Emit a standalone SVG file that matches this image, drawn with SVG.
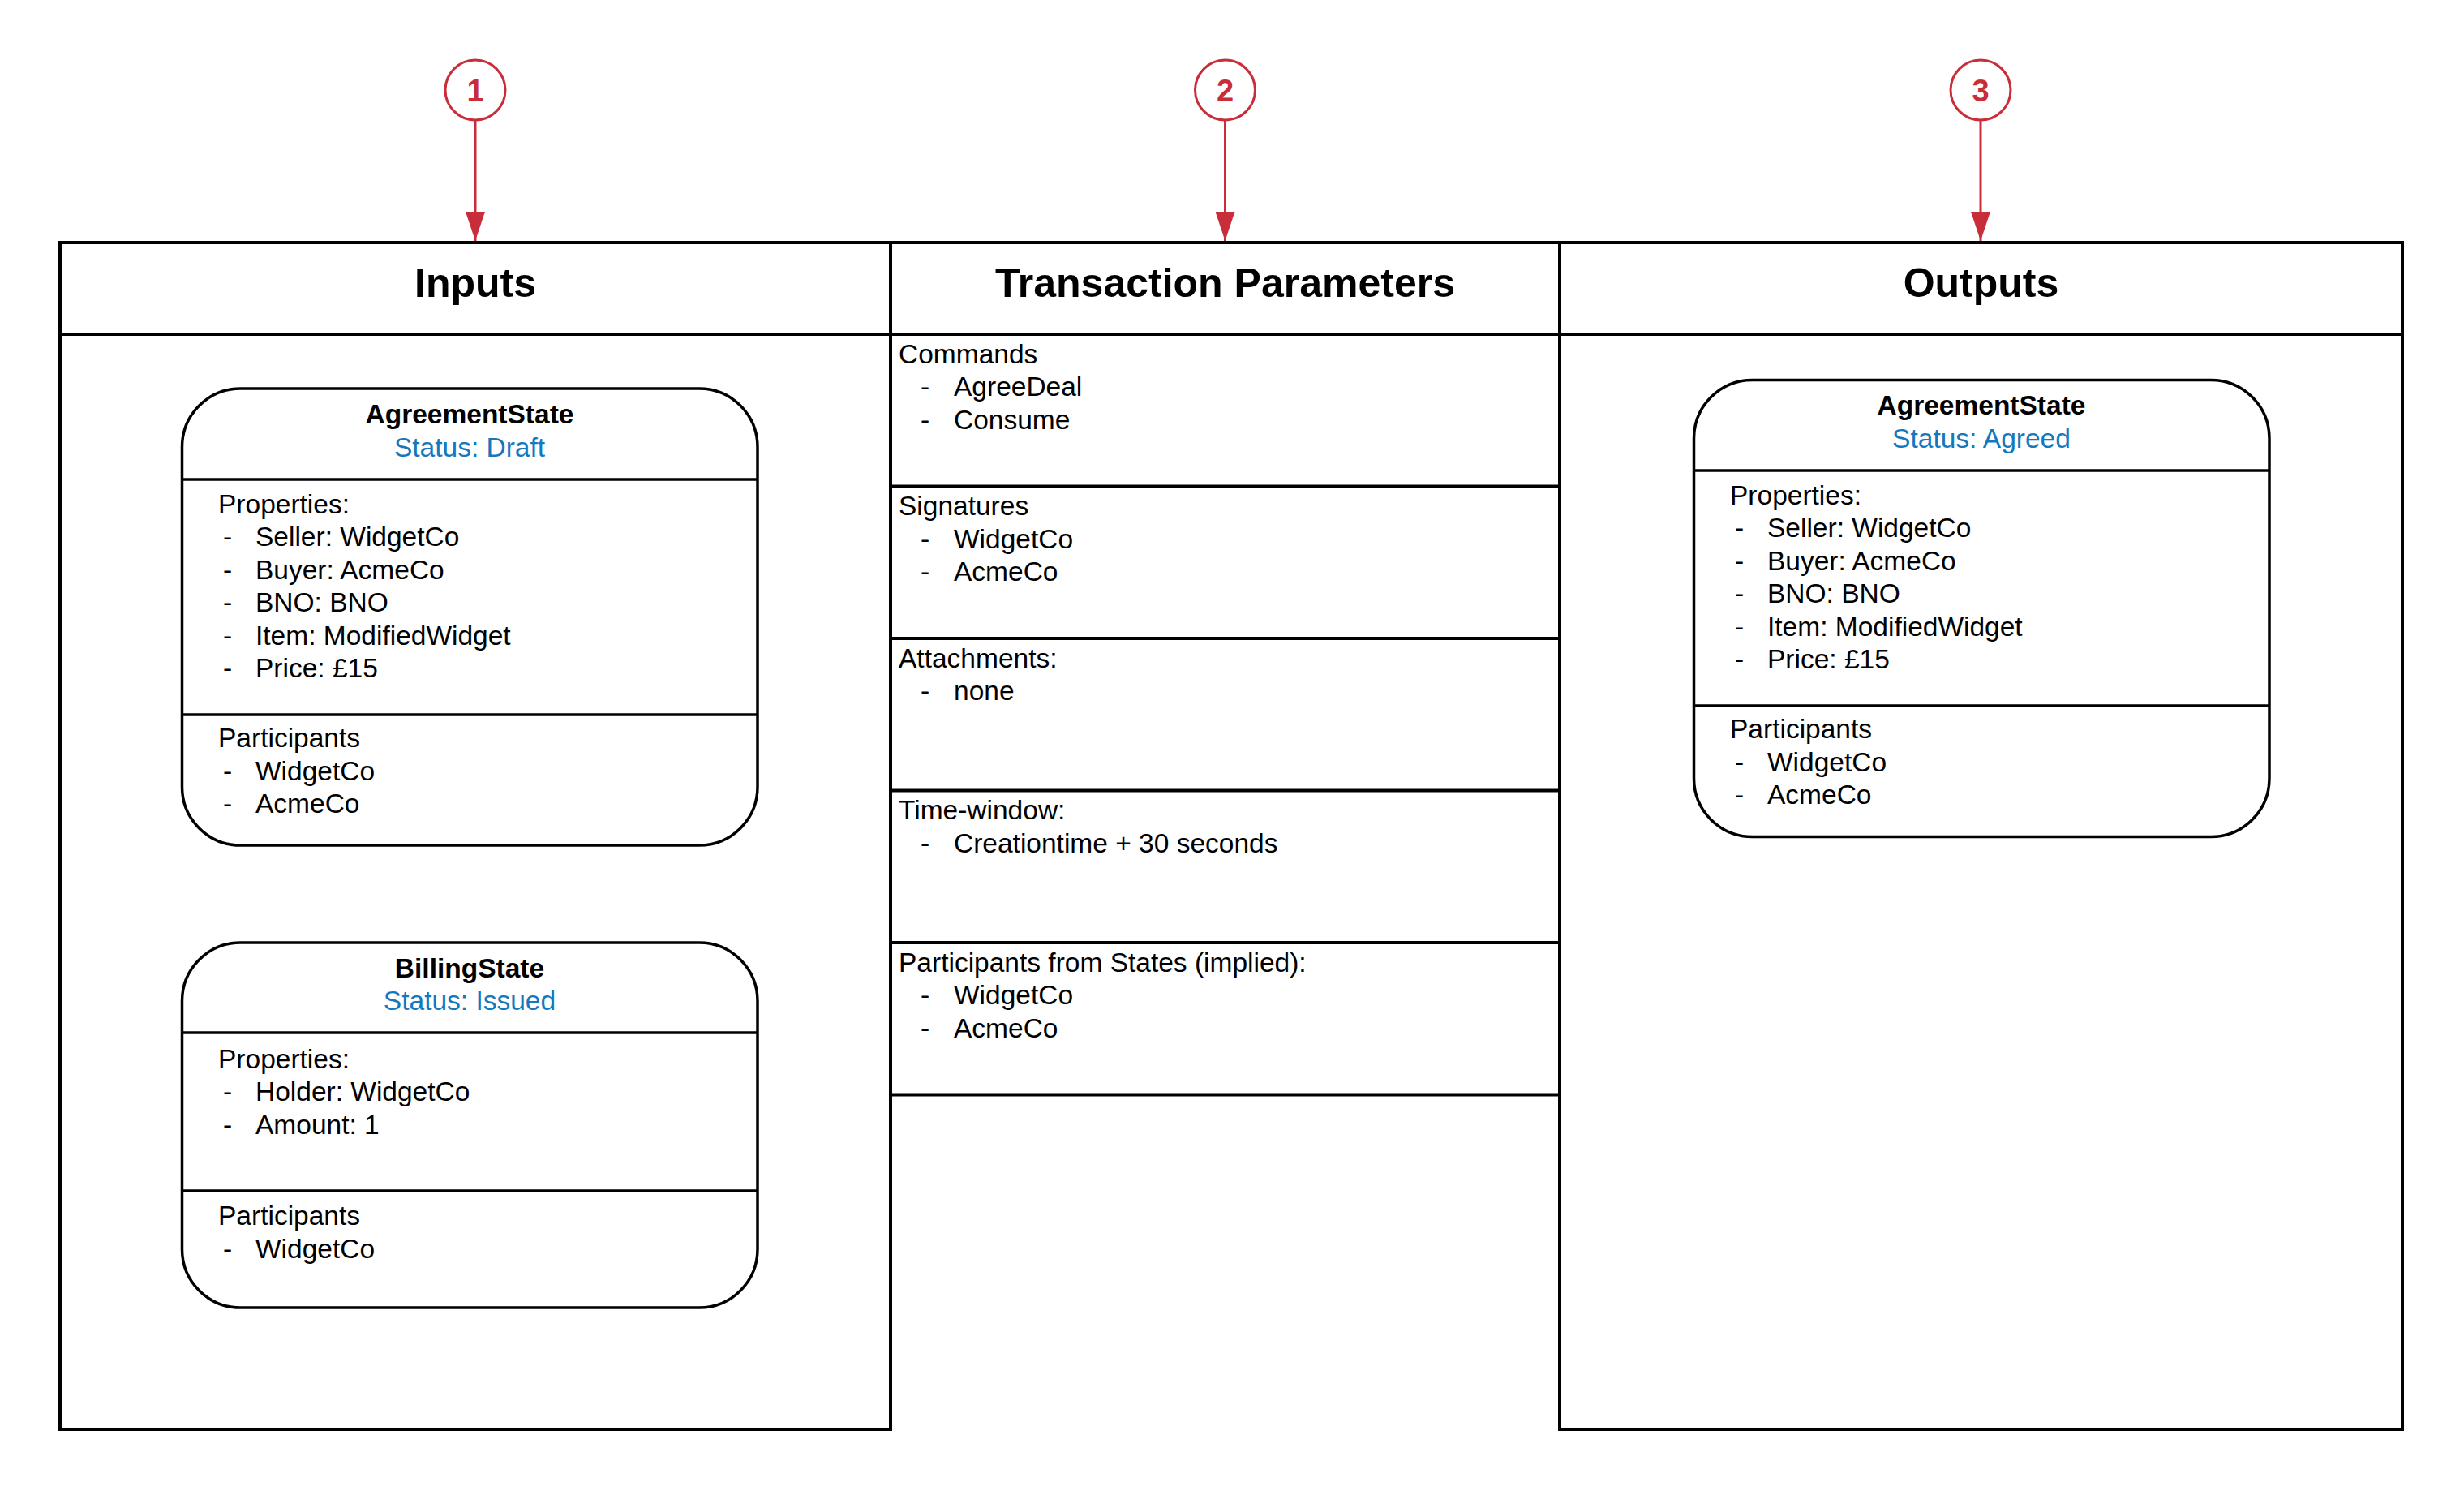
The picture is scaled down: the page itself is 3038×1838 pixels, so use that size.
<svg xmlns="http://www.w3.org/2000/svg" width="3038" height="1838" viewBox="0 0 3038 1838">
<style>
text{font-family:"Liberation Sans",Arial,sans-serif;fill:#000}
.t{font-size:50px;font-weight:bold;text-anchor:middle}
.b{font-size:33.5px}
.h{font-size:33.5px;font-weight:bold;text-anchor:middle}
.s{font-size:33.5px;fill:#1478BE;text-anchor:middle}
.n{font-size:38px;font-weight:bold;fill:#C92D39;text-anchor:middle}
.frame{fill:none;stroke:#000;stroke-width:4}
.box{fill:#fff;stroke:#000;stroke-width:3.5}
.sep{stroke:#000;stroke-width:3.5}
.circ{fill:#fff;stroke:#C92D39;stroke-width:3}
.arr{stroke:#C92D39;stroke-width:3;fill:none}
</style>
<defs>
<marker id="ah" markerUnits="userSpaceOnUse" markerWidth="36" markerHeight="24" viewBox="0 0 36 24" refX="36" refY="12" orient="auto">
<path d="M0,0 L36,12 L0,24 Z" fill="#C92D39"/>
</marker>
</defs>
<rect width="3038" height="1838" fill="#fff"/>

<g id="col-inputs">
<path class="frame" d="M74,299 H1098 V1762 H74 Z M74,412 H1098"/>
<text class="t" x="586" y="366">Inputs</text>
</g>

<g id="col-params">
<path class="frame" d="M1098,299 H1923 V1762 M1098,299 V1762 M1098,412 H1923 M1098,599.5 H1923 M1098,787 H1923 M1098,974.5 H1923 M1098,1162 H1923 M1098,1349.5 H1923"/>
<text class="t" x="1510.5" y="366">Transaction Parameters</text>
<text class="b" x="1108" y="447.5">Commands</text>
<text class="b" x="1135" y="488">-</text><text class="b" x="1176" y="488">AgreeDeal</text>
<text class="b" x="1135" y="529">-</text><text class="b" x="1176" y="529">Consume</text>
<text class="b" x="1108" y="635">Signatures</text>
<text class="b" x="1135" y="675.5">-</text><text class="b" x="1176" y="675.5">WidgetCo</text>
<text class="b" x="1135" y="716">-</text><text class="b" x="1176" y="716">AcmeCo</text>
<text class="b" x="1108" y="822.5">Attachments:</text>
<text class="b" x="1135" y="863">-</text><text class="b" x="1176" y="863">none</text>
<text class="b" x="1108" y="1010">Time-window:</text>
<text class="b" x="1135" y="1050.5">-</text><text class="b" x="1176" y="1050.5">Creationtime + 30 seconds</text>
<text class="b" x="1108" y="1197.5">Participants from States (implied):</text>
<text class="b" x="1135" y="1238">-</text><text class="b" x="1176" y="1238">WidgetCo</text>
<text class="b" x="1135" y="1278.5">-</text><text class="b" x="1176" y="1278.5">AcmeCo</text>
</g>

<g id="col-outputs">
<path class="frame" d="M1923,299 H2962 V1762 H1923 Z M1923,412 H2962"/>
<text class="t" x="2442.5" y="366">Outputs</text>
</g>

<g id="state-agreement-draft">
<rect class="box" x="224.5" y="479" width="709.5" height="563" rx="72" ry="72"/>
<line class="sep" x1="224.5" y1="591" x2="934" y2="591"/>
<line class="sep" x1="224.5" y1="881" x2="934" y2="881"/>
<text class="h" x="579" y="522">AgreementState</text>
<text class="s" x="579" y="562.5">Status: Draft</text>
<text class="b" x="269" y="632.5">Properties:</text>
<text class="b" x="275" y="673">-</text><text class="b" x="315" y="673">Seller: WidgetCo</text>
<text class="b" x="275" y="713.5">-</text><text class="b" x="315" y="713.5">Buyer: AcmeCo</text>
<text class="b" x="275" y="754">-</text><text class="b" x="315" y="754">BNO: BNO</text>
<text class="b" x="275" y="794.5">-</text><text class="b" x="315" y="794.5">Item: ModifiedWidget</text>
<text class="b" x="275" y="835">-</text><text class="b" x="315" y="835">Price: £15</text>
<text class="b" x="269" y="921">Participants</text>
<text class="b" x="275" y="961.5">-</text><text class="b" x="315" y="961.5">WidgetCo</text>
<text class="b" x="275" y="1002">-</text><text class="b" x="315" y="1002">AcmeCo</text>
</g>

<g id="state-billing-issued">
<rect class="box" x="224.5" y="1162" width="709.5" height="450" rx="72" ry="72"/>
<line class="sep" x1="224.5" y1="1273" x2="934" y2="1273"/>
<line class="sep" x1="224.5" y1="1468" x2="934" y2="1468"/>
<text class="h" x="579" y="1204.5">BillingState</text>
<text class="s" x="579" y="1245">Status: Issued</text>
<text class="b" x="269" y="1316.5">Properties:</text>
<text class="b" x="275" y="1357">-</text><text class="b" x="315" y="1357">Holder: WidgetCo</text>
<text class="b" x="275" y="1397.5">-</text><text class="b" x="315" y="1397.5">Amount: 1</text>
<text class="b" x="269" y="1510">Participants</text>
<text class="b" x="275" y="1550.5">-</text><text class="b" x="315" y="1550.5">WidgetCo</text>
</g>

<g id="state-agreement-agreed">
<rect class="box" x="2088.5" y="468.5" width="709.5" height="563" rx="72" ry="72"/>
<line class="sep" x1="2088.5" y1="580" x2="2798" y2="580"/>
<line class="sep" x1="2088.5" y1="870" x2="2798" y2="870"/>
<text class="h" x="2443" y="511">AgreementState</text>
<text class="s" x="2443" y="551.5">Status: Agreed</text>
<text class="b" x="2133" y="621.5">Properties:</text>
<text class="b" x="2139" y="662">-</text><text class="b" x="2179" y="662">Seller: WidgetCo</text>
<text class="b" x="2139" y="702.5">-</text><text class="b" x="2179" y="702.5">Buyer: AcmeCo</text>
<text class="b" x="2139" y="743">-</text><text class="b" x="2179" y="743">BNO: BNO</text>
<text class="b" x="2139" y="783.5">-</text><text class="b" x="2179" y="783.5">Item: ModifiedWidget</text>
<text class="b" x="2139" y="824">-</text><text class="b" x="2179" y="824">Price: £15</text>
<text class="b" x="2133" y="910">Participants</text>
<text class="b" x="2139" y="950.5">-</text><text class="b" x="2179" y="950.5">WidgetCo</text>
<text class="b" x="2139" y="991">-</text><text class="b" x="2179" y="991">AcmeCo</text>
</g>

<g id="marker-1">
<circle class="circ" cx="586" cy="111" r="37"/>
<text class="n" x="586" y="124.5">1</text>
</g>
<g id="marker-2">
<circle class="circ" cx="1510.5" cy="111" r="37"/>
<text class="n" x="1510.5" y="124.5">2</text>
</g>
<g id="marker-3">
<circle class="circ" cx="2442" cy="111" r="37"/>
<text class="n" x="2442" y="124.5">3</text>
</g>

<g id="connectors">
<line class="arr" x1="586" y1="148" x2="586" y2="297" marker-end="url(#ah)"/>
<line class="arr" x1="1510.5" y1="148" x2="1510.5" y2="297" marker-end="url(#ah)"/>
<line class="arr" x1="2442" y1="148" x2="2442" y2="297" marker-end="url(#ah)"/>
</g>
</svg>
